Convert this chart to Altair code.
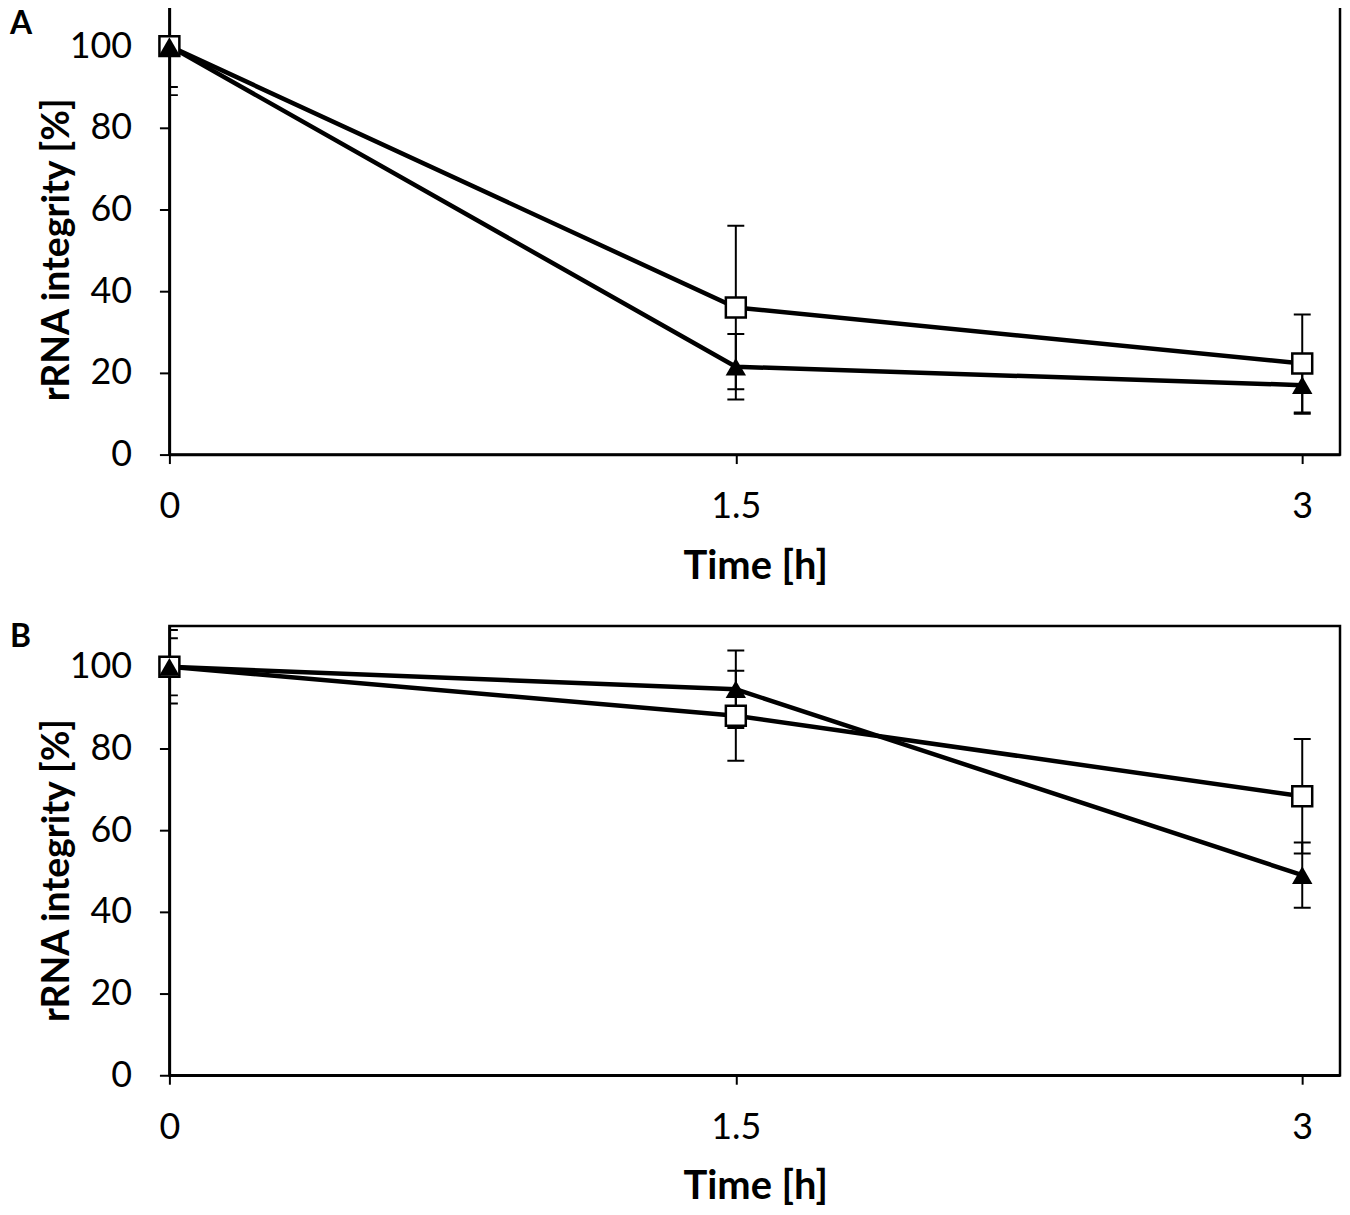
import altair as alt
import pandas as pd

# ---- data ----
times = [0, 1.5, 3]
a_square = [100, 36, 22.3]
a_square_err = [10, 20, 12]
a_triangle = [100, 21.5, 17]
a_triangle_err = [12, 8, 7]
b_square = [100, 88, 68.3]
b_square_err = [9, 11, 14]
b_triangle = [100, 94.5, 49]
b_triangle_err = [7, 9.5, 8]
y_ticks = [0, 20, 40, 60, 80, 100]
x_ticks = [0, 1.5, 3]
panel_labels = ["A", "B"]
y_max = 110

FONT = "Lato"
W = 1175
H = 451


def frame(vals, errs, series):
    return pd.DataFrame({
        "time": times,
        "value": vals,
        "lo": [v - e for v, e in zip(vals, errs)],
        "hi": [v + e for v, e in zip(vals, errs)],
        "series": series,
    })


def panel(sq, sqe, tr, tre, label, label_y):
    df = pd.concat([frame(sq, sqe, "square"), frame(tr, tre, "triangle")],
                   ignore_index=True)
    xs = alt.Scale(domain=[0, 3.1], nice=False, zero=False)
    ys = alt.Scale(domain=[0, y_max], nice=False)
    x = alt.X("time:Q", scale=xs, axis=alt.Axis(
        values=x_ticks, title="Time [h]", format=".1~f", grid=False,
        labelFlush=False, domainColor="black", domainWidth=2.5,
        tickColor="black", tickWidth=2,
        tickSize=9, labelPadding=54, labelBaseline="alphabetic",
        labelFontSize=36, labelFont=FONT, labelColor="black",
        titleFontSize=40, titleFont=FONT, titleFontWeight="bold", titleColor="black",
        titleBaseline="alphabetic", titleX=588, titleY=124,
    ))
    y = alt.Y("value:Q", scale=ys, axis=alt.Axis(
        values=y_ticks, title="rRNA integrity [%]", grid=False,
        domainColor="black", domainWidth=2.5, tickColor="black", tickWidth=2,
        tickSize=10, labelPadding=28,
        labelFontSize=36, labelFont=FONT, labelColor="black",
        titleFontSize=37.5, titleFont=FONT, titleFontWeight="bold", titleColor="black",
        titleAngle=270, titleBaseline="alphabetic", titleAlign="center",
        titleX=-101, titleY=245,
    ))
    # error bars above the plot top are cut at the frame, as in the reference
    base = alt.Chart(df).transform_calculate(hic=f"min(datum.hi, {y_max})")
    rules = base.mark_rule(color="black", strokeWidth=2, clip=True).encode(
        x=x, y=alt.Y("lo:Q", scale=ys), y2="hic:Q")
    cap_lo = base.mark_tick(orient="horizontal", size=17, thickness=2,
                            color="black", clip=True, opacity=1).encode(
        x=x, y=alt.Y("lo:Q", scale=ys))
    cap_hi = base.transform_filter(f"datum.hi < {y_max}").mark_tick(
        orient="horizontal", size=17, thickness=2,
        color="black", clip=True, opacity=1).encode(
        x=x, y=alt.Y("hi:Q", scale=ys))
    lines = base.mark_line(color="black", strokeWidth=4.5).encode(
        x=x, y=y, detail="series:N")
    squares = base.transform_filter(alt.datum.series == "square").mark_point(
        shape="square", size=400, filled=True, fill="white", stroke="black",
        strokeWidth=2.5, opacity=1).encode(x=x, y=y)
    triangles = base.transform_filter(alt.datum.series == "triangle").mark_point(
        shape="triangle-up", size=420, filled=True, color="black",
        opacity=1).encode(x=x, y=y)
    lab = alt.Chart(pd.DataFrame({"t": [label]})).mark_text(
        font=FONT, fontSize=32, fontWeight="bold", align="left",
        baseline="top", color="black").encode(
        text="t:N", x=alt.value(-160), y=alt.value(label_y))
    return alt.layer(rules, cap_lo, cap_hi, lines, squares, triangles, lab).properties(
        width=W, height=H)


pa = panel(a_square, a_square_err, a_triangle, a_triangle_err, panel_labels[0], 4)
pb = panel(b_square, b_square_err, b_triangle, b_triangle_err, panel_labels[1], -4)

chart = alt.vconcat(pa, pb, spacing=31).properties(
    padding={"left": 0, "top": -7, "right": 0, "bottom": 0}
).configure(
    font=FONT
).configure_view(
    stroke="black", strokeWidth=2.5
).configure_axis(
    grid=False, domainColor="black", domainWidth=2.5, tickColor="black",
    tickWidth=2, labelColor="black", titleColor="black",
)

chart.save("out.html", embed_options={"renderer": "svg", "actions": False})
